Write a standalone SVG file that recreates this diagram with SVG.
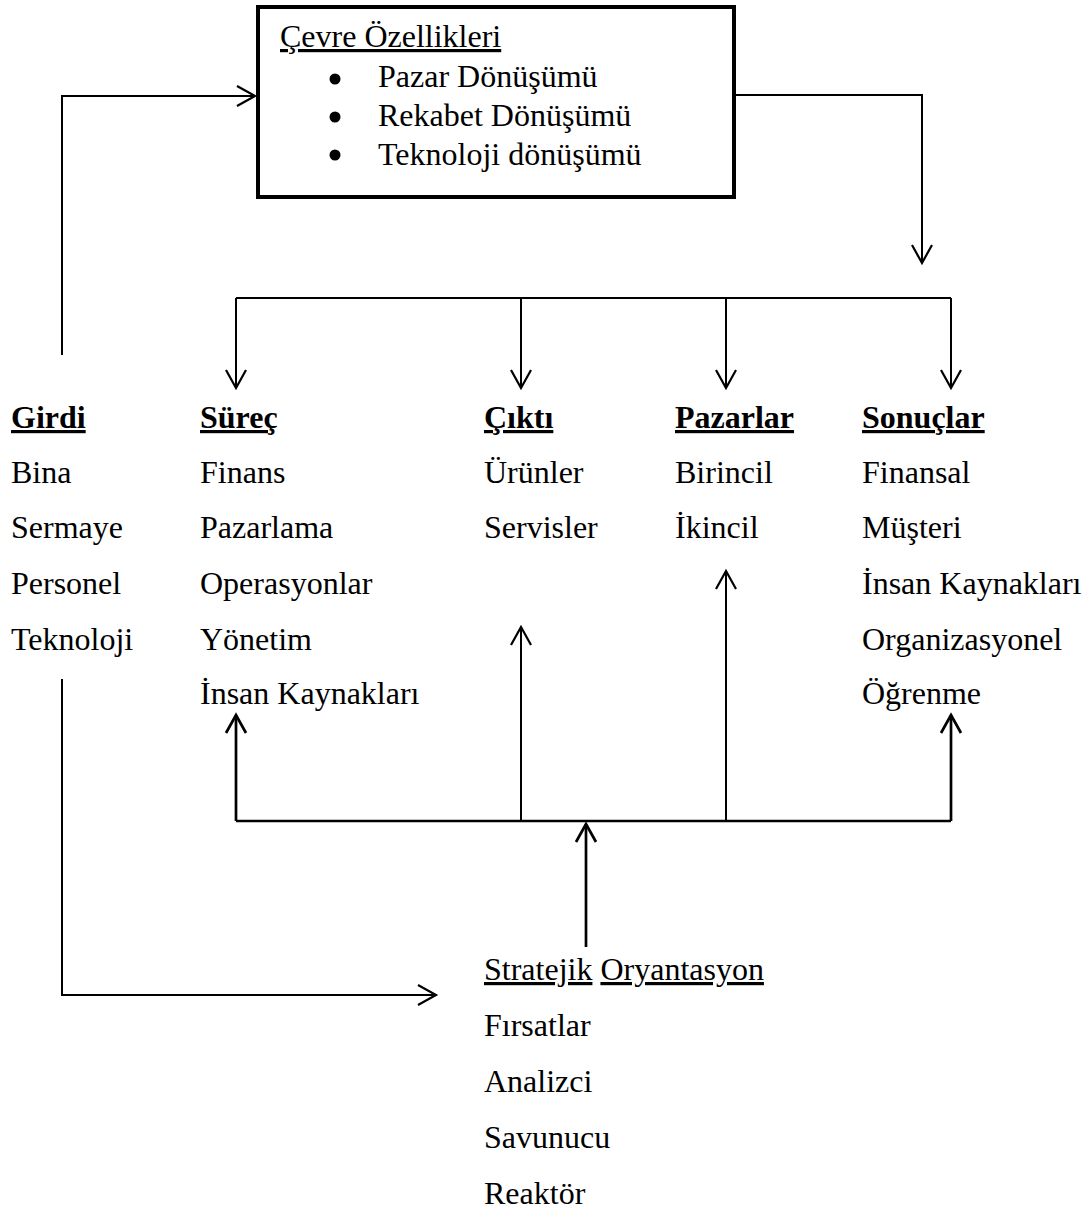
<svg xmlns="http://www.w3.org/2000/svg" width="1091" height="1210" viewBox="0 0 1091 1210">
<style>
text{font-family:"Liberation Serif","Times New Roman",serif;font-size:32px;fill:#000}
.h{font-weight:bold;text-decoration:underline}
.u{text-decoration:underline}
.ln{fill:none;stroke:#000;stroke-width:2}
.tk{stroke-width:2.7}
.ar{marker-end:url(#arr)}
.art{marker-end:url(#arrt)}
</style>
<defs>
<marker id="arr" markerUnits="userSpaceOnUse" markerWidth="24" markerHeight="24" viewBox="-20 -12 24 24" refX="0" refY="0" orient="auto">
<path d="M-18,-10 L0,0 L-18,10" fill="none" stroke="#000" stroke-width="2.2"/>
</marker>
<marker id="arrt" markerUnits="userSpaceOnUse" markerWidth="24" markerHeight="24" viewBox="-20 -12 24 24" refX="0" refY="0" orient="auto">
<path d="M-18,-10 L0,0 L-18,10" fill="none" stroke="#000" stroke-width="2.7"/>
</marker>
</defs>
<rect width="1091" height="1210" fill="#fff"/>
<g id="cevre">
<rect x="258" y="7" width="476" height="190" fill="#fff" stroke="#000" stroke-width="4"/>
<text x="280" y="47" class="u">Çevre Özellikleri</text>
<circle cx="335" cy="79" r="5.5"/><text x="378" y="87">Pazar Dönüşümü</text>
<circle cx="335" cy="117" r="5.5"/><text x="378" y="126">Rekabet Dönüşümü</text>
<circle cx="335" cy="155" r="5.5"/><text x="378" y="165">Teknoloji dönüşümü</text>
</g>
<g id="girdi">
<text x="11" y="428" class="h">Girdi</text>
<text x="11" y="483">Bina</text>
<text x="11" y="538">Sermaye</text>
<text x="11" y="594">Personel</text>
<text x="11" y="650">Teknoloji</text>
</g>
<g id="surec">
<text x="200" y="428" class="h">Süreç</text>
<text x="200" y="483">Finans</text>
<text x="200" y="538">Pazarlama</text>
<text x="200" y="594">Operasyonlar</text>
<text x="200" y="650">Yönetim</text>
<text x="200" y="704">İnsan Kaynakları</text>
</g>
<g id="cikti">
<text x="484" y="428" class="h">Çıktı</text>
<text x="484" y="483">Ürünler</text>
<text x="484" y="538">Servisler</text>
</g>
<g id="pazarlar">
<text x="675" y="428" class="h">Pazarlar</text>
<text x="675" y="483">Birincil</text>
<text x="675" y="538">İkincil</text>
</g>
<g id="sonuclar">
<text x="862" y="428" class="h">Sonuçlar</text>
<text x="862" y="483">Finansal</text>
<text x="862" y="538">Müşteri</text>
<text x="862" y="594">İnsan Kaynakları</text>
<text x="862" y="650">Organizasyonel</text>
<text x="862" y="704">Öğrenme</text>
</g>
<g id="stratejik">
<text x="484" y="980"><tspan class="u">Stratejik</tspan> <tspan class="u">Oryantasyon</tspan></text>
<text x="484" y="1036">Fırsatlar</text>
<text x="484" y="1092">Analizci</text>
<text x="484" y="1148">Savunucu</text>
<text x="484" y="1204">Reaktör</text>
</g>
<g id="connectors">
<polyline class="ln ar" points="62,355 62,96 255,96"/>
<polyline class="ln ar" points="736,95 922,95 922,263"/>
<polyline class="ln" points="236,298 951,298"/>
<line class="ln ar" x1="236" y1="298" x2="236" y2="388"/>
<line class="ln ar" x1="521" y1="298" x2="521" y2="388"/>
<line class="ln ar" x1="726" y1="298" x2="726" y2="388"/>
<line class="ln ar" x1="951" y1="298" x2="951" y2="388"/>
<polyline class="ln tk" points="236,821 951,821"/>
<line class="ln tk art" x1="236" y1="821" x2="236" y2="715"/>
<line class="ln ar" x1="521" y1="821" x2="521" y2="627"/>
<line class="ln ar" x1="726" y1="821" x2="726" y2="571"/>
<line class="ln tk art" x1="951" y1="821" x2="951" y2="715"/>
<line class="ln tk art" x1="586" y1="947" x2="586" y2="824"/>
<polyline class="ln ar" points="62,679 62,995 436,995"/>
</g>
</svg>
